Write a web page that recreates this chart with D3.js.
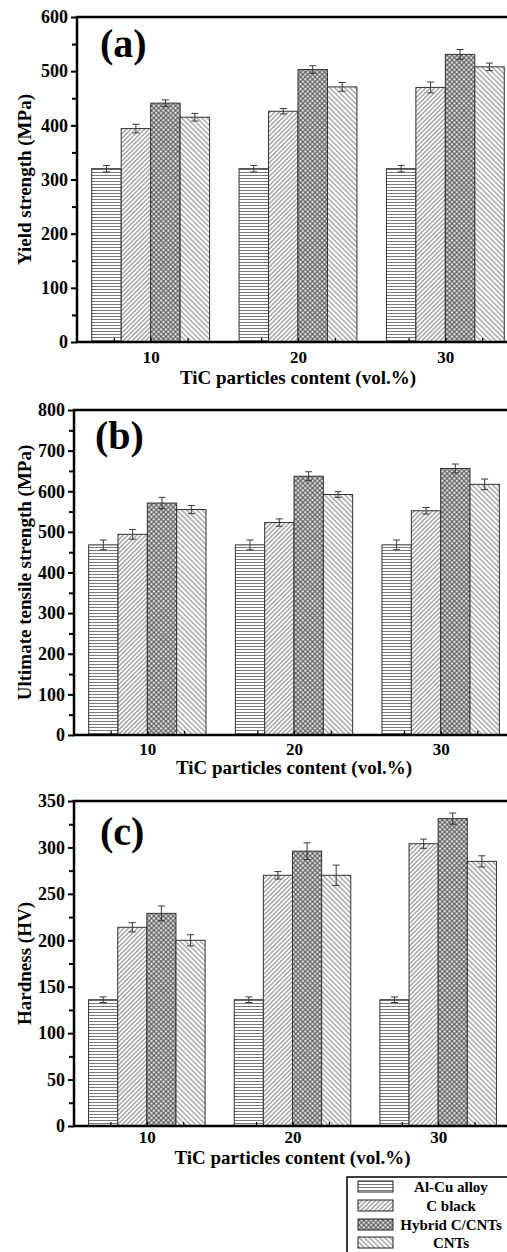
<!DOCTYPE html>
<html><head><meta charset="utf-8">
<script src="https://cdn.jsdelivr.net/npm/d3@7"></script>
<style>
html,body{margin:0;padding:0;background:#fff;}
svg{display:block;font-family:"Liberation Serif","Times New Roman",serif;font-weight:bold;}
svg text{font-family:"Liberation Serif","Times New Roman",serif;font-weight:bold;}
</style></head><body>
<svg id="chart" width="507" height="1252"></svg>
<script>
// TiC content groups and the four materials
const categories = [10, 20, 30];
const seriesNames = ["Al-Cu alloy", "C black", "Hybrid C/CNTs", "CNTs"];

// Rows follow categories, columns follow seriesNames
const yieldValues = [[320, 394, 441, 415], [320, 426, 503, 471], [320, 470, 531, 508]];
const yieldErrors = [[6, 8, 6, 7], [6, 5, 7, 8], [6, 10, 9, 7]];
const utsValues = [[468, 494, 571, 555], [468, 523, 637, 592], [468, 552, 656, 617]];
const utsErrors = [[12, 12, 14, 10], [12, 9, 11, 7], [12, 8, 11, 13]];
const hardnessValues = [[136, 214, 229, 200], [136, 270, 296, 270], [136, 304, 331, 285]];
const hardnessErrors = [[3, 5, 8, 6], [3, 4, 9, 11], [3, 5, 6, 6]];

const yieldTicks = [0, 100, 200, 300, 400, 500, 600];
const utsTicks = [0, 100, 200, 300, 400, 500, 600, 700, 800];
const hardnessTicks = [0, 50, 100, 150, 200, 250, 300, 350];

const xTitle = "TiC particles content (vol.%)";

const svg = d3.select("#chart");
const defs = svg.append("defs");

// Fill patterns, one per material
function linePattern(id, pitch, angle, color, width) {
  const p = defs.append("pattern").attr("id", id)
    .attr("patternUnits", "userSpaceOnUse")
    .attr("width", pitch).attr("height", pitch)
    .attr("patternTransform", `rotate(${angle})`);
  p.append("rect").attr("width", pitch).attr("height", pitch).attr("fill", "#fff");
  p.append("line").attr("x1", 0).attr("y1", pitch / 2).attr("x2", pitch).attr("y2", pitch / 2)
    .attr("stroke", color).attr("stroke-width", width);
  return p;
}
linePattern("pat0", 3, 0, "#6a6a6a", 0.9);      // horizontal lines
linePattern("pat1", 3.2, -45, "#6a6a6a", 0.9);  // "/" hatch
linePattern("pat3", 3.6, 45, "#6a6a6a", 0.9);   // "\" hatch
{
  const p = defs.append("pattern").attr("id", "pat2")
    .attr("patternUnits", "userSpaceOnUse")
    .attr("width", 3.4).attr("height", 3.4)
    .attr("patternTransform", "rotate(45)");
  p.append("rect").attr("width", 3.4).attr("height", 3.4).attr("fill", "#e0e0e0");
  p.append("line").attr("x1", 0).attr("y1", 1.7).attr("x2", 3.4).attr("y2", 1.7)
    .attr("stroke", "#444").attr("stroke-width", 0.9);
  p.append("line").attr("x1", 1.7).attr("y1", 0).attr("x2", 1.7).attr("y2", 3.4)
    .attr("stroke", "#444").attr("stroke-width", 0.9);
}
const fills = ["url(#pat0)", "url(#pat1)", "url(#pat2)", "url(#pat3)"];

const panels = [
  { values: yieldValues, errors: yieldErrors, ticks: yieldTicks, minor: 50, title: "Yield strength (MPa)",
    tag: "(a)", top: 17, bottom: 342, left: 77, right: 519, tagX: 100, tagY: 57, tickBase: 21, titleBase: 42 },
  { values: utsValues, errors: utsErrors, ticks: utsTicks, minor: 50, title: "Ultimate tensile strength (MPa)",
    tag: "(b)", top: 410, bottom: 735, left: 74, right: 514, tagX: 95, tagY: 449, tickBase: 20, titleBase: 39 },
  { values: hardnessValues, errors: hardnessErrors, ticks: hardnessTicks, minor: 25, title: "Hardness (HV)",
    tag: "(c)", top: 801, bottom: 1126, left: 74, right: 511, tagX: 100, tagY: 845, tickBase: 17, titleBase: 38 }
];

// strip the defaults d3.axis puts on its group so the serif style applies
function plainAxis(a) {
  a.attr("font-family", null).attr("font-size", null);
  a.select(".domain").remove();
}

panels.forEach(pn => {
  const g = svg.append("g");
  const ymax = pn.ticks[pn.ticks.length - 1];
  const x = d3.scaleLinear().domain([5, 35]).range([pn.left, pn.right]);
  const y = d3.scaleLinear().domain([0, ymax]).range([pn.bottom, pn.top]);

  // bars
  const cells = [];
  categories.forEach((c, ci) => seriesNames.forEach((s, si) => cells.push({
    c, si, v: pn.values[ci][si], e: pn.errors[ci][si]
  })));
  g.selectAll("rect.bar").data(cells).join("rect").attr("class", "bar")
    .attr("x", d => x(d.c - 4 + 2 * d.si))
    .attr("width", d => x(d.c - 2 + 2 * d.si) - x(d.c - 4 + 2 * d.si))
    .attr("y", d => y(d.v))
    .attr("height", d => y(0) - y(d.v))
    .attr("fill", d => fills[d.si])
    .attr("stroke", "#333").attr("stroke-width", 1);

  // error bars
  const eb = g.selectAll("g.err").data(cells).join("g").attr("class", "err")
    .attr("stroke", "#3a3a3a").attr("stroke-width", 1);
  const cx = d => x(d.c - 3 + 2 * d.si);
  eb.append("line").attr("x1", cx).attr("x2", cx)
    .attr("y1", d => y(d.v - d.e)).attr("y2", d => y(d.v + d.e));
  eb.append("line").attr("x1", d => cx(d) - 3.5).attr("x2", d => cx(d) + 3.5)
    .attr("y1", d => y(d.v + d.e)).attr("y2", d => y(d.v + d.e));
  eb.append("line").attr("x1", d => cx(d) - 3.5).attr("x2", d => cx(d) + 3.5)
    .attr("y1", d => y(d.v - d.e)).attr("y2", d => y(d.v - d.e));

  // y axis: minor and major ticks
  const minorTicks = d3.range(0, ymax + 0.001, pn.minor).filter(v => !pn.ticks.includes(v));
  g.append("g").attr("transform", `translate(${pn.left},0)`)
    .call(d3.axisLeft(y).tickValues(minorTicks).tickSize(5).tickFormat(""))
    .call(plainAxis)
    .call(a => a.selectAll("line").attr("stroke", "#000").attr("stroke-width", 2));
  g.append("g").attr("transform", `translate(${pn.left},0)`)
    .call(d3.axisLeft(y).tickValues(pn.ticks).tickSize(6).tickPadding(3))
    .call(plainAxis)
    .call(a => a.selectAll("line").attr("stroke", "#000").attr("stroke-width", 2))
    .call(a => a.selectAll("text").attr("font-size", 18).attr("fill", "#000"));

  // x axis: small inward ticks and category labels
  const xTicks = [];
  categories.forEach(c => xTicks.push(c - 2.5, c, c + 2.5));
  g.append("g").attr("transform", `translate(0,${pn.bottom})`)
    .call(d3.axisBottom(x).tickValues(xTicks).tickSize(-4).tickFormat(""))
    .call(plainAxis)
    .call(a => a.selectAll("line").attr("stroke", "#000").attr("stroke-width", 1.2));
  g.append("g").attr("transform", `translate(0,${pn.bottom})`)
    .call(d3.axisBottom(x).tickValues(categories).tickSize(0))
    .call(plainAxis)
    .call(a => a.selectAll("text").attr("font-size", 17).attr("fill", "#000")
      .attr("y", pn.tickBase).attr("dy", null));

  // frame: left, bottom and top edges
  g.append("path")
    .attr("d", `M${pn.right + 20},${pn.top}H${pn.left}V${pn.bottom}H${pn.right + 20}`)
    .attr("fill", "none").attr("stroke", "#000").attr("stroke-width", 2.5);

  // titles
  g.append("text").attr("x", x(20)).attr("y", pn.bottom + pn.titleBase)
    .attr("text-anchor", "middle").attr("font-size", 19).text(xTitle);
  g.append("text").attr("transform", `translate(31,${(pn.top + pn.bottom) / 2}) rotate(-90)`)
    .attr("text-anchor", "middle").attr("font-size", 19).text(pn.title);
  g.append("text").attr("x", pn.tagX).attr("y", pn.tagY)
    .attr("font-size", 40).text(pn.tag);
});

// legend
const lg = svg.append("g").attr("transform", "translate(347,1177)");
lg.append("rect").attr("width", 200).attr("height", 100)
  .attr("fill", "#fff").attr("stroke", "#000").attr("stroke-width", 1.5);
const rowY = [4, 23, 42, 60];
seriesNames.forEach((s, i) => {
  lg.append("rect").attr("x", 11).attr("y", rowY[i]).attr("width", 35).attr("height", 11)
    .attr("fill", fills[i]).attr("stroke", "#222").attr("stroke-width", 1);
  lg.append("text").attr("x", 104).attr("y", rowY[i] + 11)
    .attr("text-anchor", "middle").attr("font-size", 15).text(s);
});
</script>
</body></html>
